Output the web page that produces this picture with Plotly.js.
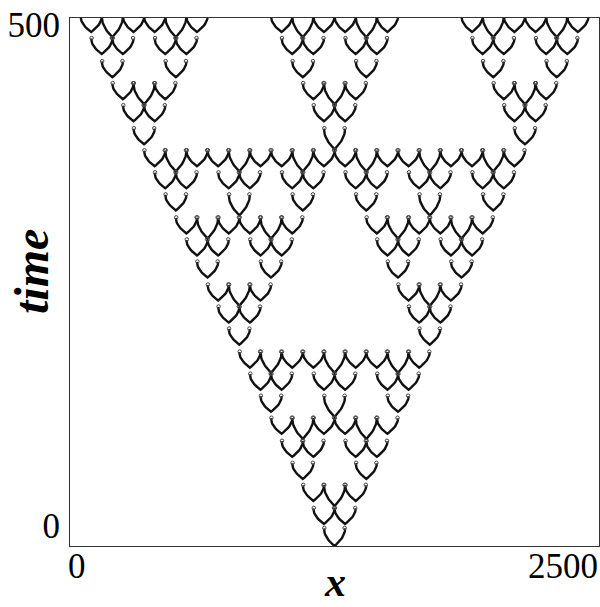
<!DOCTYPE html>
<html>
<head>
<meta charset="utf-8">
<script src="https://cdn.plot.ly/plotly-3.0.1.min.js"></script>
<style>html,body{margin:0;padding:0;background:#fff;}#chart{width:600px;height:607px;}</style>
</head>
<body>
<div id="chart"></div>
<script>
// Start time of each generation (row) of split pulses
const rowTimes = [-20, 2, 25, 47, 69, 92, 114, 136, 158, 181, 203, 225,
                  248, 270, 292, 315, 337, 359, 381, 404, 426, 448, 471, 493];

// x positions where a pulse splits, per generation
const row0  = [1250];
const row1  = [1200, 1300];
const row2  = [1150, 1250, 1350];
const row3  = [1100, 1400];
const row4  = [1050, 1150, 1350, 1450];
const row5  = [1000, 1100, 1200, 1300, 1400, 1500];
const row6  = [950, 1250, 1550];
const row7  = [900, 1000, 1200, 1300, 1500, 1600];
const row8  = [850, 950, 1050, 1150, 1250, 1350, 1450, 1550, 1650];
const row9  = [800, 1700];
const row10 = [750, 850, 1650, 1750];
const row11 = [700, 800, 900, 1600, 1700, 1800];
const row12 = [650, 950, 1550, 1850];
const row13 = [600, 700, 900, 1000, 1500, 1600, 1800, 1900];
const row14 = [550, 650, 750, 850, 950, 1050, 1450, 1550, 1650, 1750, 1850, 1950];
const row15 = [500, 800, 1100, 1400, 1700, 2000];
const row16 = [450, 550, 750, 850, 1050, 1150, 1350, 1450, 1650, 1750, 1950, 2050];
const row17 = [400, 500, 600, 700, 800, 900, 1000, 1100, 1200, 1300, 1400, 1500, 1600, 1700, 1800, 1900, 2000, 2100];
const row18 = [350, 1250, 2150];
const row19 = [300, 400, 1200, 1300, 2100, 2200];
const row20 = [250, 350, 450, 1150, 1250, 1350, 2050, 2150, 2250];
const row21 = [200, 500, 1100, 1400, 2000, 2300];
const row22 = [150, 250, 450, 550, 1050, 1150, 1350, 1450, 1950, 2050, 2250, 2350];
const row23 = [100, 200, 300, 400, 500, 600, 1000, 1100, 1200, 1300, 1400, 1500, 1900, 2000, 2100, 2200, 2300, 2400];

const rows = [row0,row1,row2,row3,row4,row5,row6,row7,row8,row9,row10,row11,
              row12,row13,row14,row15,row16,row17,row18,row19,row20,row21,row22,row23];

const xTickVals = [0, 2500];
const xTickText = ['0', '2500'];
const yTickVals = [0, 500];
const yTickText = ['0', '500'];

// Shape of one split (drawn style)
const spread = 50;    // how far each pulse travels
const rise = 15.5;    // duration of travel
const deepExtra = 5;  // pulses born from a collision start a little earlier

const lx = [], ly = [], mx = [], my = [];
const N = 14;
rows.forEach((pos, r) => {
  const prev = r > 0 ? rows[r-1] : [];
  pos.forEach(xc => {
    const deep = prev.includes(xc - spread) && prev.includes(xc + spread);
    const t0 = rowTimes[r] - (deep ? deepExtra : 0);
    const tTop = rowTimes[r] + rise + (r === 0 ? 2 : 0);
    for (let i = N; i >= 0; i--) {
      const s = i / N;
      lx.push(xc - spread * (1 - (1 - s) * (1 - s)));
      ly.push(t0 + (tTop - t0) * s);
    }
    for (let i = 1; i <= N; i++) {
      const s = i / N;
      lx.push(xc + spread * (1 - (1 - s) * (1 - s)));
      ly.push(t0 + (tTop - t0) * s);
    }
    lx.push(null); ly.push(null);
    mx.push(xc - spread + 2, xc + spread - 2);
    my.push(tTop + 0.5, tTop + 0.5);
  });
});

const traces = [
  {x: lx, y: ly, type: 'scatter', mode: 'lines', line: {color: '#111', width: 2.4}, hoverinfo: 'skip', connectgaps: false},
  {x: mx, y: my, type: 'scatter', mode: 'markers', marker: {symbol: 'circle-open', size: 3.5, color: '#444', line: {width: 1, color: '#444'}}, hoverinfo: 'skip'}
];

const serif = 'Liberation Serif, Times New Roman, serif';
const layout = {
  width: 600, height: 607,
  margin: {l: 70, r: 1, t: 18, b: 61},
  paper_bgcolor: '#fff', plot_bgcolor: '#fff',
  showlegend: false,
  xaxis: {
    range: [0, 2500], showgrid: false, zeroline: false,
    showline: true, mirror: true, linecolor: '#333', linewidth: 1,
    ticks: '', showticklabels: false, tickvals: xTickVals
  },
  yaxis: {
    range: [-20, 507], showgrid: false, zeroline: false,
    showline: true, mirror: true, linecolor: '#333', linewidth: 1,
    ticks: '', tickvals: yTickVals, ticktext: yTickText,
    tickfont: {family: serif, size: 35, color: '#000'}, ticklabelstandoff: 2
  },
  annotations: [
    {x: xTickVals[0], y: 0, xref: 'x', yref: 'paper', text: xTickText[0], showarrow: false,
     xanchor: 'left', yanchor: 'top', xshift: -4, yshift: 1, font: {family: serif, size: 35, color: '#000'}},
    {x: xTickVals[1], y: 0, xref: 'x', yref: 'paper', text: xTickText[1], showarrow: false,
     xanchor: 'right', yanchor: 'top', xshift: 1, yshift: 1, font: {family: serif, size: 35, color: '#000'}},
    {x: 0.5, y: 0, xref: 'paper', yref: 'paper', text: '<b><i>x</i></b>', showarrow: false,
     xanchor: 'center', yanchor: 'bottom', yshift: -61, font: {family: serif, size: 42, color: '#000'}},
    {x: 0, y: 0.5, xref: 'paper', yref: 'paper', text: '<b><i>time</i></b>', showarrow: false,
     textangle: -90, xanchor: 'center', yanchor: 'middle', xshift: -39, yshift: 10,
     font: {family: serif, size: 48, color: '#000'}}
  ]
};

Plotly.newPlot('chart', traces, layout, {displayModeBar: false, staticPlot: true});
</script>
</body>
</html>
